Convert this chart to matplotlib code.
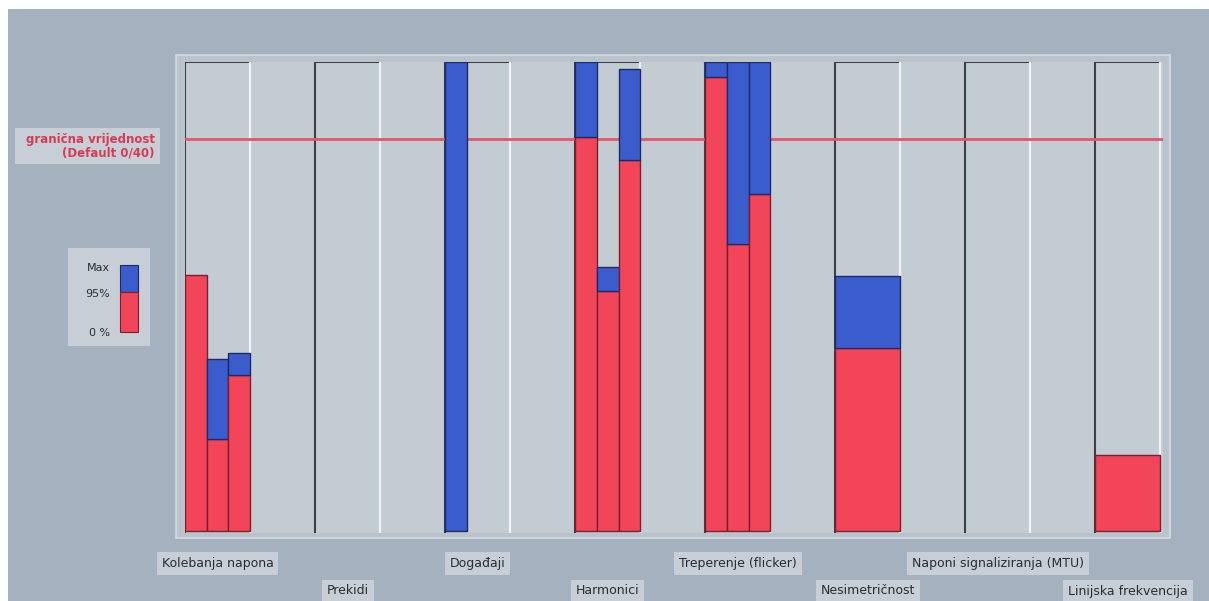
import matplotlib
matplotlib.use("Agg")
import matplotlib.pyplot as plt
from matplotlib.patches import Rectangle
from matplotlib.transforms import blended_transform_factory

# ---- data ----
categories = ["Kolebanja napona", "Prekidi", "Događaji", "Harmonici",
              "Treperenje (flicker)", "Nesimetričnost",
              "Naponi signaliziranja (MTU)", "Linijska frekvencija"]
p95_values = [[54.7, 19.6, 33.2], [], [0.0], [84.0, 51.1, 79.1],
              [96.8, 61.3, 71.9], [39.1], [], [16.2]]
max_values = [[54.7, 36.6, 37.9], [], [100.0], [100.0, 56.2, 98.5],
              [100.0, 100.0, 100.0], [54.3], [], [16.2]]
limit_value = 83.6
limit_label = "granična vrijednost\n(Default 0/40)"
legend_labels = ["Max", "95%", "0 %"]

# ---- style ----
wide_bar = [False, False, False, False, False, True, False, True]
OUTER = "#a4b2bf"
FRAME = "#b8c3cc"
PANEL = "#c4ccd3"
BOX = "#c7ced5"
RED = "#f2455a"
BLUE = "#3a5ccd"
RED_EDGE = "#7a1f2c"
BLUE_EDGE = "#1d2a66"
LIMIT = "#e4566a"

W, H = 1209, 601
fig = plt.figure(figsize=(W / 100, H / 100), dpi=100, facecolor=OUTER)

def fx(px):
    return px / W

def fy(py):
    return 1 - py / H

# white margins top/left
fig.patches.append(Rectangle((0, fy(9)), 1, 1, transform=fig.transFigure,
                             facecolor="white", edgecolor="none", zorder=0))
fig.patches.append(Rectangle((0, 0), fx(8), 1, transform=fig.transFigure,
                             facecolor="white", edgecolor="none", zorder=0))
# inner frame
fig.patches.append(Rectangle((fx(176), fy(538)), fx(1170 - 176), (538 - 55) / H,
                             transform=fig.transFigure, facecolor=FRAME,
                             edgecolor="#d4dbe0", linewidth=1.2, zorder=0))

# main axes
ax = fig.add_axes([fx(185), fy(533), fx(978), (533 - 62) / H])
ax.set_zorder(2)
ax.set_facecolor(PANEL)
ax.set_xlim(0, 7.52)
ax.set_ylim(-0.4, 100)
for s in ax.spines.values():
    s.set_visible(False)
ax.set_xticks([])
ax.set_yticks([])

slot = 1 / 6
for i, cat in enumerate(categories):
    ax.plot([i, i], [-0.4, 100], color="#3b4046", lw=1.5, zorder=1)
    ax.plot([i, i + 0.5], [100, 100], color="#3b4046", lw=1.5, zorder=1)
    ax.plot([i + 0.5, i + 0.5], [-0.4, 100], color="#eef2f5", lw=1.6, zorder=1)
    w = 0.5 if wide_bar[i] else slot
    for k, (p, m) in enumerate(zip(p95_values[i], max_values[i])):
        x = i + k * slot
        if p > 0:
            ax.bar(x, p, width=w, align="edge", color=RED, edgecolor=RED_EDGE,
                   linewidth=1.0, zorder=3)
        if m > p:
            ax.bar(x, m - p, bottom=p, width=w, align="edge", color=BLUE,
                   edgecolor=BLUE_EDGE, linewidth=1.0, zorder=3)

ax.axhline(limit_value, color=LIMIT, lw=2, zorder=2)

# category labels, staggered
tr = blended_transform_factory(ax.transData, fig.transFigure)
for i, cat in enumerate(categories):
    yp = 563 if i % 2 == 0 else 591
    ax.text(i + 0.25, fy(yp), cat, transform=tr, ha="center", va="center",
            fontsize=9, color="#2a2d33", clip_on=False,
            bbox=dict(boxstyle="square,pad=0.4", facecolor=BOX, edgecolor="none"))

# limit label
fig.patches.append(Rectangle((fx(15), fy(164)), fx(145), 36 / H,
                             transform=fig.transFigure, facecolor=BOX,
                             edgecolor="none"))
fig.text(fx(155), fy(146), limit_label, ha="right", va="center", fontsize=8.5,
         fontweight="bold", color="#d83a55", linespacing=1.05)

# legend
fig.patches.append(Rectangle((fx(68), fy(346)), fx(82), 98 / H,
                             transform=fig.transFigure, facecolor=BOX,
                             edgecolor="none"))
fig.patches.append(Rectangle((fx(120), fy(292)), fx(18), 27 / H,
                             transform=fig.transFigure, facecolor=BLUE,
                             edgecolor=BLUE_EDGE, linewidth=0.8))
fig.patches.append(Rectangle((fx(120), fy(332)), fx(18), 40 / H,
                             transform=fig.transFigure, facecolor=RED,
                             edgecolor=RED_EDGE, linewidth=0.8))
for lab, yp in zip(legend_labels, [268, 294, 333]):
    fig.text(fx(110), fy(yp), lab, ha="right", va="center", fontsize=8,
             color="#2a2d33")

fig.savefig("out.png", dpi=100, facecolor=OUTER)
